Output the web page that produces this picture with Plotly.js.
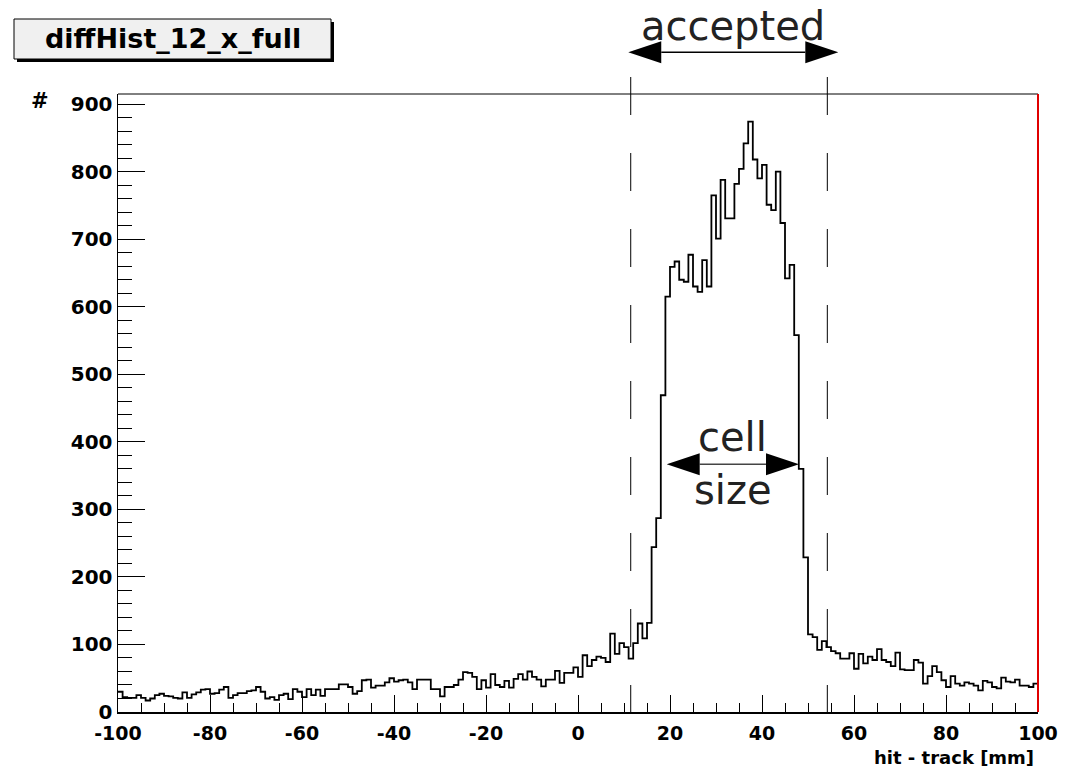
<!DOCTYPE html>
<html><head><meta charset="utf-8">
<script src="https://cdn.plot.ly/plotly-3.0.1.min.js"></script>
<style>html,body{margin:0;padding:0;background:#fff}</style>
</head><body>
<div id="plot" style="width:1080px;height:774px"></div>
<script>
// ---- data ----
const histName = "diffHist_12_x_full";
const xAxisLabel = "hit - track [mm]";
const yAxisLabel = "#";
const binLow = -100;
const binHigh = 100;
const xTickVals = [-100, -80, -60, -40, -20, 0, 20, 40, 60, 80, 100];
const xTickText = ["-100", "-80", "-60", "-40", "-20", "0", "20", "40", "60", "80", "100"];
// counts per 1 mm bin, from [-100,-99] to [99,100]
const counts = [
  30,22,21,21,25,21,17,20,25,27,
  24,23,21,20,29,21,26,29,33,34,
  27,28,33,37,21,25,28,28,31,32,
  37,30,20,22,18,25,27,19,34,30,
  22,34,25,33,24,34,34,34,41,41,
  37,27,31,47,48,36,39,39,44,50,
  45,47,48,44,34,48,48,48,34,34,
  23,37,37,40,48,59,58,52,34,47,
  36,56,40,37,46,36,49,56,48,60,
  52,48,38,48,48,61,43,58,58,66,
  52,84,68,77,82,80,74,116,86,102,
  96,79,102,131,109,132,244,287,469,615,
  659,667,640,637,677,630,622,669,630,765,
  701,788,731,731,782,804,842,874,818,790,
  810,751,743,800,724,642,662,558,360,229,
  115,111,92,105,96,90,87,79,79,87,
  64,86,72,82,77,93,77,74,68,88,
  63,62,62,77,73,42,53,68,59,47,
  37,53,42,39,44,42,39,32,46,44,
  37,35,51,45,44,48,39,39,37,42
];
const acceptedLines = [11.46, 54.2];     // dashed window edges [mm]
const acceptedArrowEnds = [10.93, 56.59];
const cellArrowEnds = [19.28, 48.04];
const acceptedText = "accepted";
const cellText = "cell";
const sizeText = "size";

// ---- build step outline ----
const nb = counts.length;
const bw = (binHigh - binLow) / nb;
const xs = [], ys = [];
for (let i = 0; i <= nb; i++) {
  xs.push(binLow + i * bw);
  ys.push(counts[Math.min(i, nb - 1)]);
}

const FONT = "DejaVu Sans";
const plotL = 118, plotR = 42, plotT = 94, plotB = 62, W = 1080, H = 774;
const pw = W - plotL - plotR, ph = H - plotT - plotB;
const px2paperX = px => (px - plotL) / pw;
const py2paperY = py => (H - plotB - py) / ph;
const headLen = 33 / pw * (binHigh - binLow);   // arrow head length in mm
const headHalf = 11 / ph;                        // half height in paper

function arrowShapes(ends, yPaper, shaftColor) {
  const [a, b] = ends;
  return [
    {type:'line', xref:'x', yref:'paper', x0:a+headLen, x1:b-headLen, y0:yPaper, y1:yPaper,
     line:{color:shaftColor, width:1.5}},
    {type:'path', xref:'x', yref:'paper',
     path:`M ${a},${yPaper} L ${a+headLen},${yPaper+headHalf} L ${a+headLen},${yPaper-headHalf} Z`,
     fillcolor:'#000', line:{width:0}},
    {type:'path', xref:'x', yref:'paper',
     path:`M ${b},${yPaper} L ${b-headLen},${yPaper+headHalf} L ${b-headLen},${yPaper-headHalf} Z`,
     fillcolor:'#000', line:{width:0}}
  ];
}

const shapes = [];
// title box shadow + box
shapes.push({type:'rect', xref:'paper', yref:'paper', layer:'above',
  x0:px2paperX(17), x1:px2paperX(334), y0:py2paperY(62), y1:py2paperY(22),
  fillcolor:'#000', line:{width:0}});
shapes.push({type:'rect', xref:'paper', yref:'paper', layer:'above',
  x0:px2paperX(14), x1:px2paperX(331), y0:py2paperY(59), y1:py2paperY(19),
  fillcolor:'#f0f0f0', line:{color:'#000', width:1}});
// frame top and red right edge
shapes.push({type:'line', xref:'paper', yref:'paper', x0:0, x1:1, y0:1, y1:1, line:{color:'#000', width:1}});
shapes.push({type:'line', xref:'paper', yref:'paper', x0:1, x1:1, y0:0, y1:1, line:{color:'#e00000', width:2}});
// dashed acceptance lines
acceptedLines.forEach(v => shapes.push({type:'line', xref:'x', yref:'paper',
  x0:v, x1:v, y0:py2paperY(77), y1:0, line:{color:'#000', width:1, dash:'38px,38px'}}));
shapes.push(...arrowShapes(acceptedArrowEnds, py2paperY(52.3), '#000'));
shapes.push(...arrowShapes(cellArrowEnds, py2paperY(464.3), '#444'));

const mid = a => (a[0] + a[1]) / 2;
const annotations = [
  {text:histName, xref:'paper', yref:'paper', x:px2paperX(172.5), y:py2paperY(39),
   xanchor:'center', yanchor:'middle', showarrow:false,
   font:{family:FONT, size:27, color:'#000', weight:'bold'}},
  {text:acceptedText, xref:'x', yref:'paper', x:mid(acceptedArrowEnds), y:py2paperY(26),
   xanchor:'center', yanchor:'middle', showarrow:false,
   font:{family:FONT, size:40, color:'#222'}},
  {text:cellText, xref:'x', yref:'paper', x:mid(cellArrowEnds), y:py2paperY(437),
   xanchor:'center', yanchor:'middle', showarrow:false,
   font:{family:FONT, size:40, color:'#222'}},
  {text:sizeText, xref:'x', yref:'paper', x:mid(cellArrowEnds), y:py2paperY(490),
   xanchor:'center', yanchor:'middle', showarrow:false,
   font:{family:FONT, size:40, color:'#222'}},
  {text:xAxisLabel, xref:'paper', yref:'paper', x:px2paperX(1036), y:py2paperY(757),
   xanchor:'right', yanchor:'middle', showarrow:false,
   font:{family:FONT, size:18, color:'#000', weight:'bold'}},
  {text:yAxisLabel, xref:'paper', yref:'paper', x:px2paperX(40), y:py2paperY(101),
   xanchor:'center', yanchor:'middle', showarrow:false,
   font:{family:FONT, size:21, color:'#000', weight:'bold'}}
];

const trace = {
  type:'scatter', mode:'lines', x:xs, y:ys,
  line:{shape:'hv', color:'#000', width:1.8},
  hoverinfo:'skip', showlegend:false
};

const layout = {
  width:W, height:H,
  margin:{l:plotL, r:plotR, t:plotT, b:plotB, pad:0},
  paper_bgcolor:'#fff', plot_bgcolor:'#fff',
  showlegend:false,
  xaxis:{range:[binLow, binHigh], tickmode:'array', tickvals:xTickVals, ticktext:xTickText,
    ticks:'inside', ticklen:17, ticklabelstandoff:3,
    tickwidth:1, tickcolor:'#000', showgrid:false, zeroline:false,
    showline:true, linecolor:'#000', linewidth:2, mirror:false,
    minor:{dtick:5, tick0:-100, ticks:'inside', ticklen:9, tickwidth:1, tickcolor:'#000', showgrid:false},
    tickfont:{family:FONT, size:19, color:'#000', weight:'bold'}, fixedrange:true},
  yaxis:{range:[0, 915], tick0:0, dtick:100, ticks:'inside', ticklen:27,
    tickwidth:1, tickcolor:'#000', showgrid:false, zeroline:false,
    showline:true, linecolor:'#000', linewidth:1.5, mirror:false,
    minor:{dtick:20, tick0:0, ticks:'inside', ticklen:14, tickwidth:1, tickcolor:'#000', showgrid:false},
    tickfont:{family:FONT, size:20, color:'#000', weight:'bold'}, fixedrange:true},
  shapes:shapes,
  annotations:annotations
};

Plotly.newPlot('plot', [trace], layout, {displayModeBar:false, staticPlot:true});
</script>
</body></html>
